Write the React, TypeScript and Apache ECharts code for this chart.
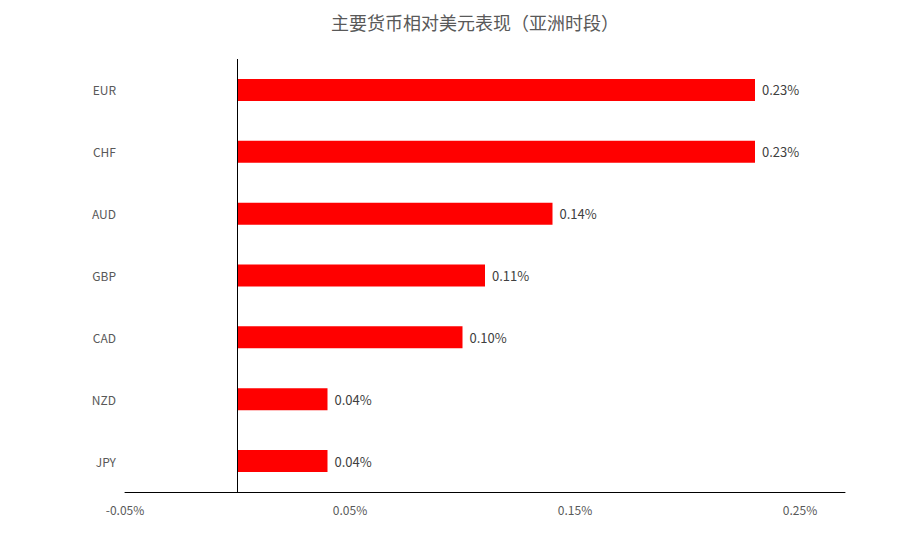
// 主要货币相对美元表现（亚洲时段）横向柱状图
import { useEffect, useRef } from "react";
import * as echarts from "echarts";

const currencies = ["EUR", "CHF", "AUD", "GBP", "CAD", "NZD", "JPY"];
const changes = [0.23, 0.23, 0.14, 0.11, 0.1, 0.04, 0.04];
const axisMin = -0.05;
const axisMax = 0.27;
const axisStep = 0.1;

const FONT = "'Microsoft YaHei', 'Noto Sans CJK SC', sans-serif";

export default function App() {
  const ref = useRef<HTMLDivElement>(null);

  useEffect(() => {
    if (!ref.current) return;
    const chart = echarts.init(ref.current, null, { renderer: "svg" });
    chart.setOption({
      animation: false,
      backgroundColor: "#fff",
      title: {
        text: "主要货币相对美元表现（亚洲时段）",
        left: 326,
        top: 8,
        textStyle: { fontFamily: FONT, fontSize: 18, fontWeight: "normal", color: "#595959" },
      },
      grid: { left: 125, right: 74, top: 59, bottom: 57 },
      xAxis: {
        type: "value",
        min: axisMin,
        max: axisMax,
        interval: axisStep,
        axisLine: { show: true, onZero: false, lineStyle: { color: "#000", width: 1 } },
        axisTick: { show: false },
        splitLine: { show: false },
        axisLabel: {
          showMaxLabel: false,
          margin: 11,
          fontFamily: FONT,
          fontSize: 12,
          color: "#595959",
          formatter: (v: number) => v.toFixed(2) + "%",
        },
      },
      yAxis: {
        type: "category",
        inverse: true,
        data: currencies,
        axisLine: { show: false },
        axisTick: { show: false },
        axisLabel: { margin: 9, fontFamily: FONT, fontSize: 12, color: "#595959" },
      },
      series: [
        {
          type: "bar",
          data: changes,
          barWidth: 22,
          itemStyle: { color: "#ff0000" },
          label: {
            show: true,
            position: "right",
            distance: 7,
            fontFamily: FONT,
            fontSize: 13,
            color: "#404040",
            formatter: (p: any) => p.value.toFixed(2) + "%",
          },
          markLine: {
            silent: true,
            symbol: "none",
            label: { show: false },
            lineStyle: { color: "#000", width: 1, type: "solid" },
            data: [{ xAxis: 0 }],
          },
        },
      ],
    });
    return () => chart.dispose();
  }, []);

  return (
    <div
      ref={ref}
      style={{ position: "fixed", left: 0, top: 0, width: 919, height: 549 }}
    />
  );
}
